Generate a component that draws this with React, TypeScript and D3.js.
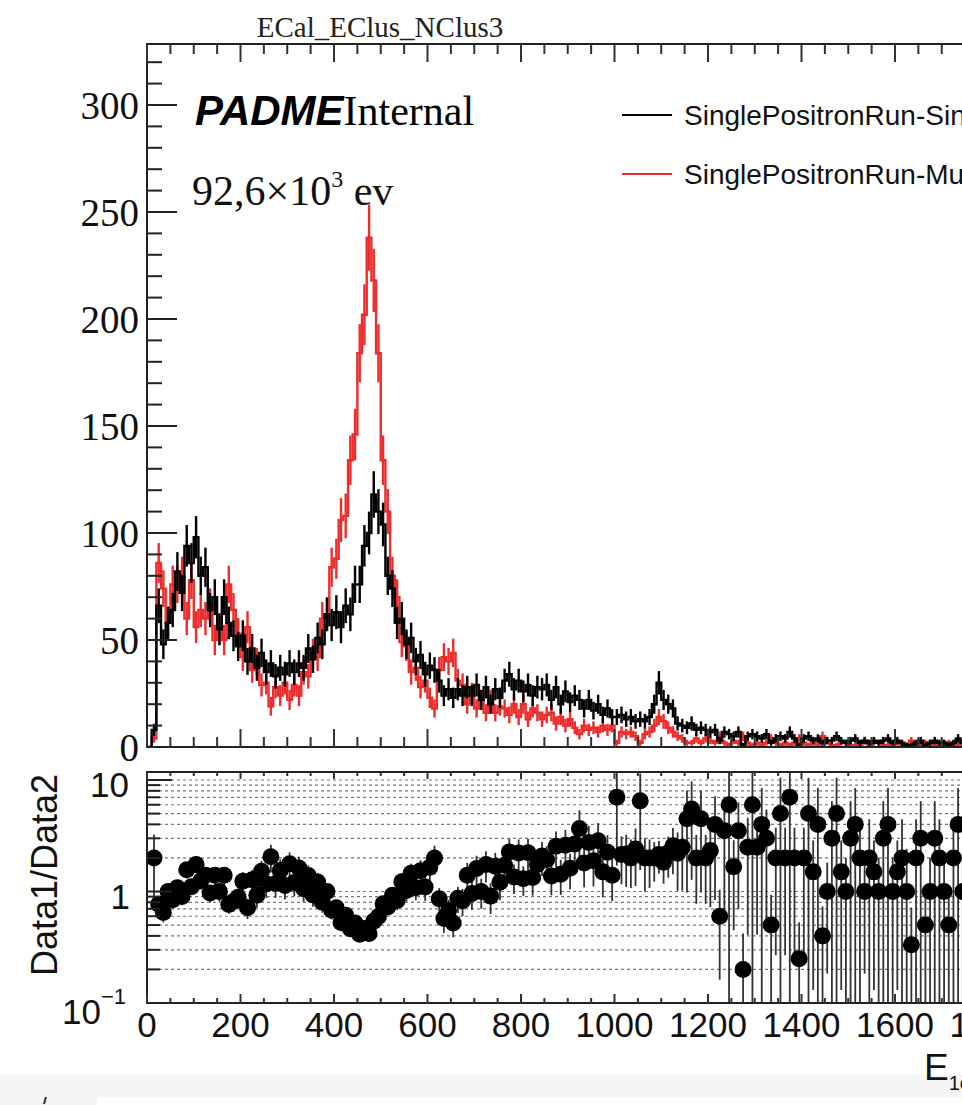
import React from "react";
import * as d3 from "d3";

// ---------------- data ----------------
const binWidth = 10; // energy units per bin
// Data1: SinglePositronRun-Sin... (black)
const data1 = [
  0, 8, 66, 48, 58, 64, 82, 72, 94, 86,
  98, 80, 84, 64, 70, 55, 70, 58, 52, 47,
  52, 40, 46, 37, 44, 35, 39, 33, 37, 34,
  39, 35, 39, 37, 46, 41, 51, 48, 62, 57,
  63, 56, 66, 62, 76, 76, 94, 100, 118, 110,
  104, 80, 74, 58, 60, 48, 51, 40, 43, 34,
  38, 36, 31, 24, 27, 23, 27, 24, 28, 24,
  29, 22, 28, 20, 27, 23, 31, 34, 27, 31,
  26, 29, 24, 28, 27, 29, 22, 28, 20, 26,
  21, 24, 22, 18, 22, 17, 20, 15, 18, 14,
  14, 15, 13, 14, 12, 13, 12, 14, 20, 30,
  22, 20, 18, 11, 10, 9, 11, 8, 9, 8,
  7, 8, 3, 7, 6, 5, 7, 1, 5, 6,
  5, 4, 6, 2, 4, 5, 4, 7, 4, 1,
  4, 5, 3, 4, 2, 3, 3, 5, 3, 2,
  3, 4, 2, 3, 2, 3, 2, 3, 4, 2,
  3, 2, 1, 1, 2, 3, 1, 2, 3, 2,
  2, 1, 2, 4, 2, 1, 2, 1, 3, 1,
];
// Data2: SinglePositronRun-Mu... (red)
const data2 = [
  0, 4, 86, 74, 58, 76, 76, 80, 60, 78,
  56, 64, 60, 66, 50, 55, 50, 76, 64, 53,
  42, 56, 36, 40, 29, 30, 19, 28, 24, 30,
  22, 29, 24, 35, 33, 44, 42, 60, 62, 84,
  88, 106, 108, 134, 146, 184, 202, 238, 218, 184,
  134, 110, 80, 70, 49, 47, 35, 37, 28, 31,
  23, 18, 36, 42, 40, 44, 31, 29, 20, 25,
  18, 22, 16, 22, 16, 19, 18, 15, 20, 14,
  20, 13, 18, 16, 13, 15, 16, 11, 14, 10,
  13, 9, 6, 10, 8, 9, 7, 10, 8, 10,
  2, 7, 6, 7, 5, 2, 6, 7, 10, 14,
  12, 9, 7, 5, 4, 2, 2, 4, 2, 4,
  3, 2, 5, 2, 1, 3, 2, 5, 2, 1,
  2, 1, 2, 4, 2, 1, 2, 1, 2, 4,
  2, 1, 2, 1, 5, 3, 1, 1, 2, 2,
  1, 1, 1, 3, 1, 2, 2, 1, 1, 2,
  2, 1, 1, 3, 1, 1, 2, 2, 1, 1,
  2, 2, 1, 1, 2, 1, 1, 1, 2, 1,
];
const seriesNames = ["SinglePositronRun-SingleCluster", "SinglePositronRun-MultiCluster"];
const seriesColors = ["#000000", "#ee2c2c"];
const mainYTicks = [0, 50, 100, 150, 200, 250, 300];
const xTickLabels = [0, 200, 400, 600, 800, 1000, 1200, 1400, 1600, 1800];
const ratioMajor = [0.1, 1, 10];
const ratioMinor = [0.2, 0.3, 0.4, 0.5, 0.6, 0.7, 0.8, 0.9, 2, 3, 4, 5, 6, 7, 8, 9];
const titleText = "ECal_EClus_NClus3";

const SANS = "'Liberation Sans', Arial, Helvetica, sans-serif";
const SERIF = "'Liberation Serif', 'Times New Roman', serif";

export default function App() {
  const L = 147;
  const xMax = 2000;
  const x = d3.scaleLinear().domain([0, xMax]).range([L, L + xMax * 0.4675]);
  const mTop = 44, mBot = 747;
  const y = d3.scaleLinear().domain([0, 328.5]).range([mBot, mTop]);
  const rTop = 772, rBot = 1003;
  const yr = d3.scaleLog().domain([0.1, 11.8]).range([rBot, rTop]);
  const R = x.range()[1];

  const stepPath = (vals: number[]) => {
    const pts: [number, number][] = vals.map((v, i) => [x(i * binWidth), y(v)]);
    pts.push([x(vals.length * binWidth), y(vals[vals.length - 1])]);
    return d3.line().curve(d3.curveStepAfter)(pts) || "";
  };

  const errBars = (vals: number[], color: string, key: string) =>
    vals.map((v, i) =>
      v > 0 ? (
        <line
          key={key + i}
          x1={x((i + 0.5) * binWidth)}
          x2={x((i + 0.5) * binWidth)}
          y1={y(v - Math.sqrt(v))}
          y2={y(v + Math.sqrt(v))}
          stroke={color}
          strokeWidth={2.4}
        />
      ) : null
    );

  const ratio = data1
    .map((a, i) => {
      const b = data2[i];
      if (a <= 0 || b <= 0) return null;
      const r = a / b;
      const e = r * Math.sqrt(1 / a + 1 / b);
      return { xc: (i + 0.5) * binWidth, r, lo: r - e, hi: r + e };
    })
    .filter((d) => d !== null) as { xc: number; r: number; lo: number; hi: number }[];

  const xTicks = d3.range(0, xMax + 1, 50);
  const yMinorMain = d3.range(0, 329, 10);

  return (
    <svg
      width={962}
      height={1105}
      style={{ position: "absolute", left: 0, top: 0, background: "#fff" }}
      xmlns="http://www.w3.org/2000/svg"
    >
      <defs>
        <clipPath id="mainClip">
          <rect x={L} y={mTop} width={R - L} height={mBot - mTop} />
        </clipPath>
        <clipPath id="ratioClip">
          <rect x={L} y={rTop} width={R - L} height={rBot - rTop} />
        </clipPath>
      </defs>
      <rect x={0} y={0} width={962} height={1105} fill="#fff" />

      {/* title */}
      <text x={380} y={37} fontFamily={SERIF} fontSize={29} textAnchor="middle" fill="#222">
        {titleText}
      </text>

      {/* ---------- main panel ---------- */}
      <g clipPath="url(#mainClip)">
        <path d={stepPath(data2)} fill="none" stroke={seriesColors[1]} strokeWidth={2.4} />
        {errBars(data2, seriesColors[1], "e2")}
        <path d={stepPath(data1)} fill="none" stroke={seriesColors[0]} strokeWidth={2.4} />
        {errBars(data1, seriesColors[0], "e1")}
      </g>
      <rect x={L} y={mTop} width={R - L} height={mBot - mTop} fill="none" stroke="#222" strokeWidth={2} />
      {/* main y ticks */}
      {yMinorMain.map((v) => (
        <line key={"my" + v} x1={L} x2={L + (v % 50 === 0 ? 30 : 15)} y1={y(v)} y2={y(v)} stroke="#222" strokeWidth={2} />
      ))}
      {mainYTicks.map((v) => (
        <text key={"myl" + v} x={139} y={y(v)} dy="0.35em" textAnchor="end" fontFamily={SERIF} fontSize={39} fill="#111">
          {v}
        </text>
      ))}
      {/* main x ticks top & bottom */}
      {xTicks.map((v) => {
        const major = v % 200 === 0;
        return (
          <g key={"mx" + v}>
            <line x1={x(v)} x2={x(v)} y1={mTop} y2={mTop + (major ? 18 : 10)} stroke="#333" strokeWidth={2} />
            <line x1={x(v)} x2={x(v)} y1={mBot} y2={mBot - (major ? 18 : 10)} stroke="#333" strokeWidth={2} />
          </g>
        );
      })}

      {/* labels in main panel */}
      <text x={195} y={125} fontSize={42} fill="#000">
        <tspan fontFamily={SANS} fontWeight="bold" fontStyle="italic">PADME</tspan>
        <tspan fontFamily={SERIF}>Internal</tspan>
      </text>
      <text x={192} y={205} fontFamily={SERIF} fontSize={42} fill="#111">
        <tspan>92,6×10</tspan>
        <tspan fontSize={24} dy={-18}>3</tspan>
        <tspan dy={18}> ev</tspan>
      </text>

      {/* legend */}
      {seriesNames.map((n, i) => (
        <g key={"lg" + i}>
          <line x1={622} x2={672} y1={115 + i * 59} y2={115 + i * 59} stroke={seriesColors[i]} strokeWidth={2} />
          <text x={684} y={125 + i * 59} fontFamily={SANS} fontSize={28} fill="#111">
            {n}
          </text>
        </g>
      ))}

      {/* ---------- ratio panel ---------- */}
      <g clipPath="url(#ratioClip)">
        {[...ratioMinor, 1, 10].map((v) => (
          <line key={"g" + v} x1={L} x2={R} y1={yr(v)} y2={yr(v)} stroke="#777" strokeWidth={1.2} strokeDasharray="3,3" />
        ))}
        {ratio.map((d, i) => (
          <line
            key={"re" + i}
            x1={x(d.xc)}
            x2={x(d.xc)}
            y1={d.lo > 0.1 ? yr(d.lo) : rBot + 5}
            y2={yr(Math.min(d.hi, 20))}
            stroke="#333"
            strokeWidth={1.8}
          />
        ))}
        {ratio.map((d, i) => (
          <circle key={"rp" + i} cx={x(d.xc)} cy={yr(d.r)} r={8.5} fill="#000" />
        ))}
      </g>
      <rect x={L} y={rTop} width={R - L} height={rBot - rTop} fill="none" stroke="#222" strokeWidth={2} />
      {ratioMinor.map((v) => (
        <line key={"rmt" + v} x1={L} x2={L + 13} y1={yr(v)} y2={yr(v)} stroke="#222" strokeWidth={2} />
      ))}
      {ratioMajor.map((v) => (
        <line key={"rMt" + v} x1={L} x2={L + 25} y1={yr(v)} y2={yr(v)} stroke="#222" strokeWidth={2} />
      ))}
      {xTicks.map((v) => {
        const major = v % 200 === 0;
        return (
          <g key={"rx" + v}>
            <line x1={x(v)} x2={x(v)} y1={rTop} y2={rTop + (major ? 7 : 4)} stroke="#333" strokeWidth={2} />
            <line x1={x(v)} x2={x(v)} y1={rBot} y2={rBot - (major ? 9 : 5)} stroke="#333" strokeWidth={2} />
          </g>
        );
      })}
      {/* ratio y labels */}
      <text x={129} y={yr(10) + 17} textAnchor="end" fontFamily={SANS} fontSize={35} fill="#111">10</text>
      <text x={130} y={yr(1) + 17} textAnchor="end" fontFamily={SANS} fontSize={35} fill="#111">1</text>
      <text x={101} y={yr(0.1) + 21} textAnchor="end" fontFamily={SANS} fontSize={35} fill="#111">10</text>
      <text x={101} y={yr(0.1) + 1} textAnchor="start" fontFamily={SANS} fontSize={22} fill="#111">−1</text>
      {/* x labels */}
      {xTickLabels.map((v) => (
        <text key={"xl" + v} x={x(v)} y={1037} textAnchor="middle" fontFamily={SANS} fontSize={35} fill="#111">
          {v}
        </text>
      ))}
      <text x={57} y={875} transform="rotate(-90 57 875)" textAnchor="middle" fontFamily={SANS} fontSize={36} fill="#111">
        Data1/Data2
      </text>

      {/* screenshot strip at the bottom */}
      <rect x={0} y={1075} width={962} height={30} fill="#f5f5f5" />
      <rect x={97} y={1097} width={865} height={8} fill="#fff" />
      <line x1={46} y1={1097} x2={44} y2={1104} stroke="#333" strokeWidth={2} />

      {/* x axis title (cut at the right edge) */}
      <text x={924} y={1080} fontFamily={SANS} fontSize={37} fill="#111">
        <tspan>E</tspan>
        <tspan fontSize={20} dy={10}>1cl</tspan>
      </text>
    </svg>
  );
}
